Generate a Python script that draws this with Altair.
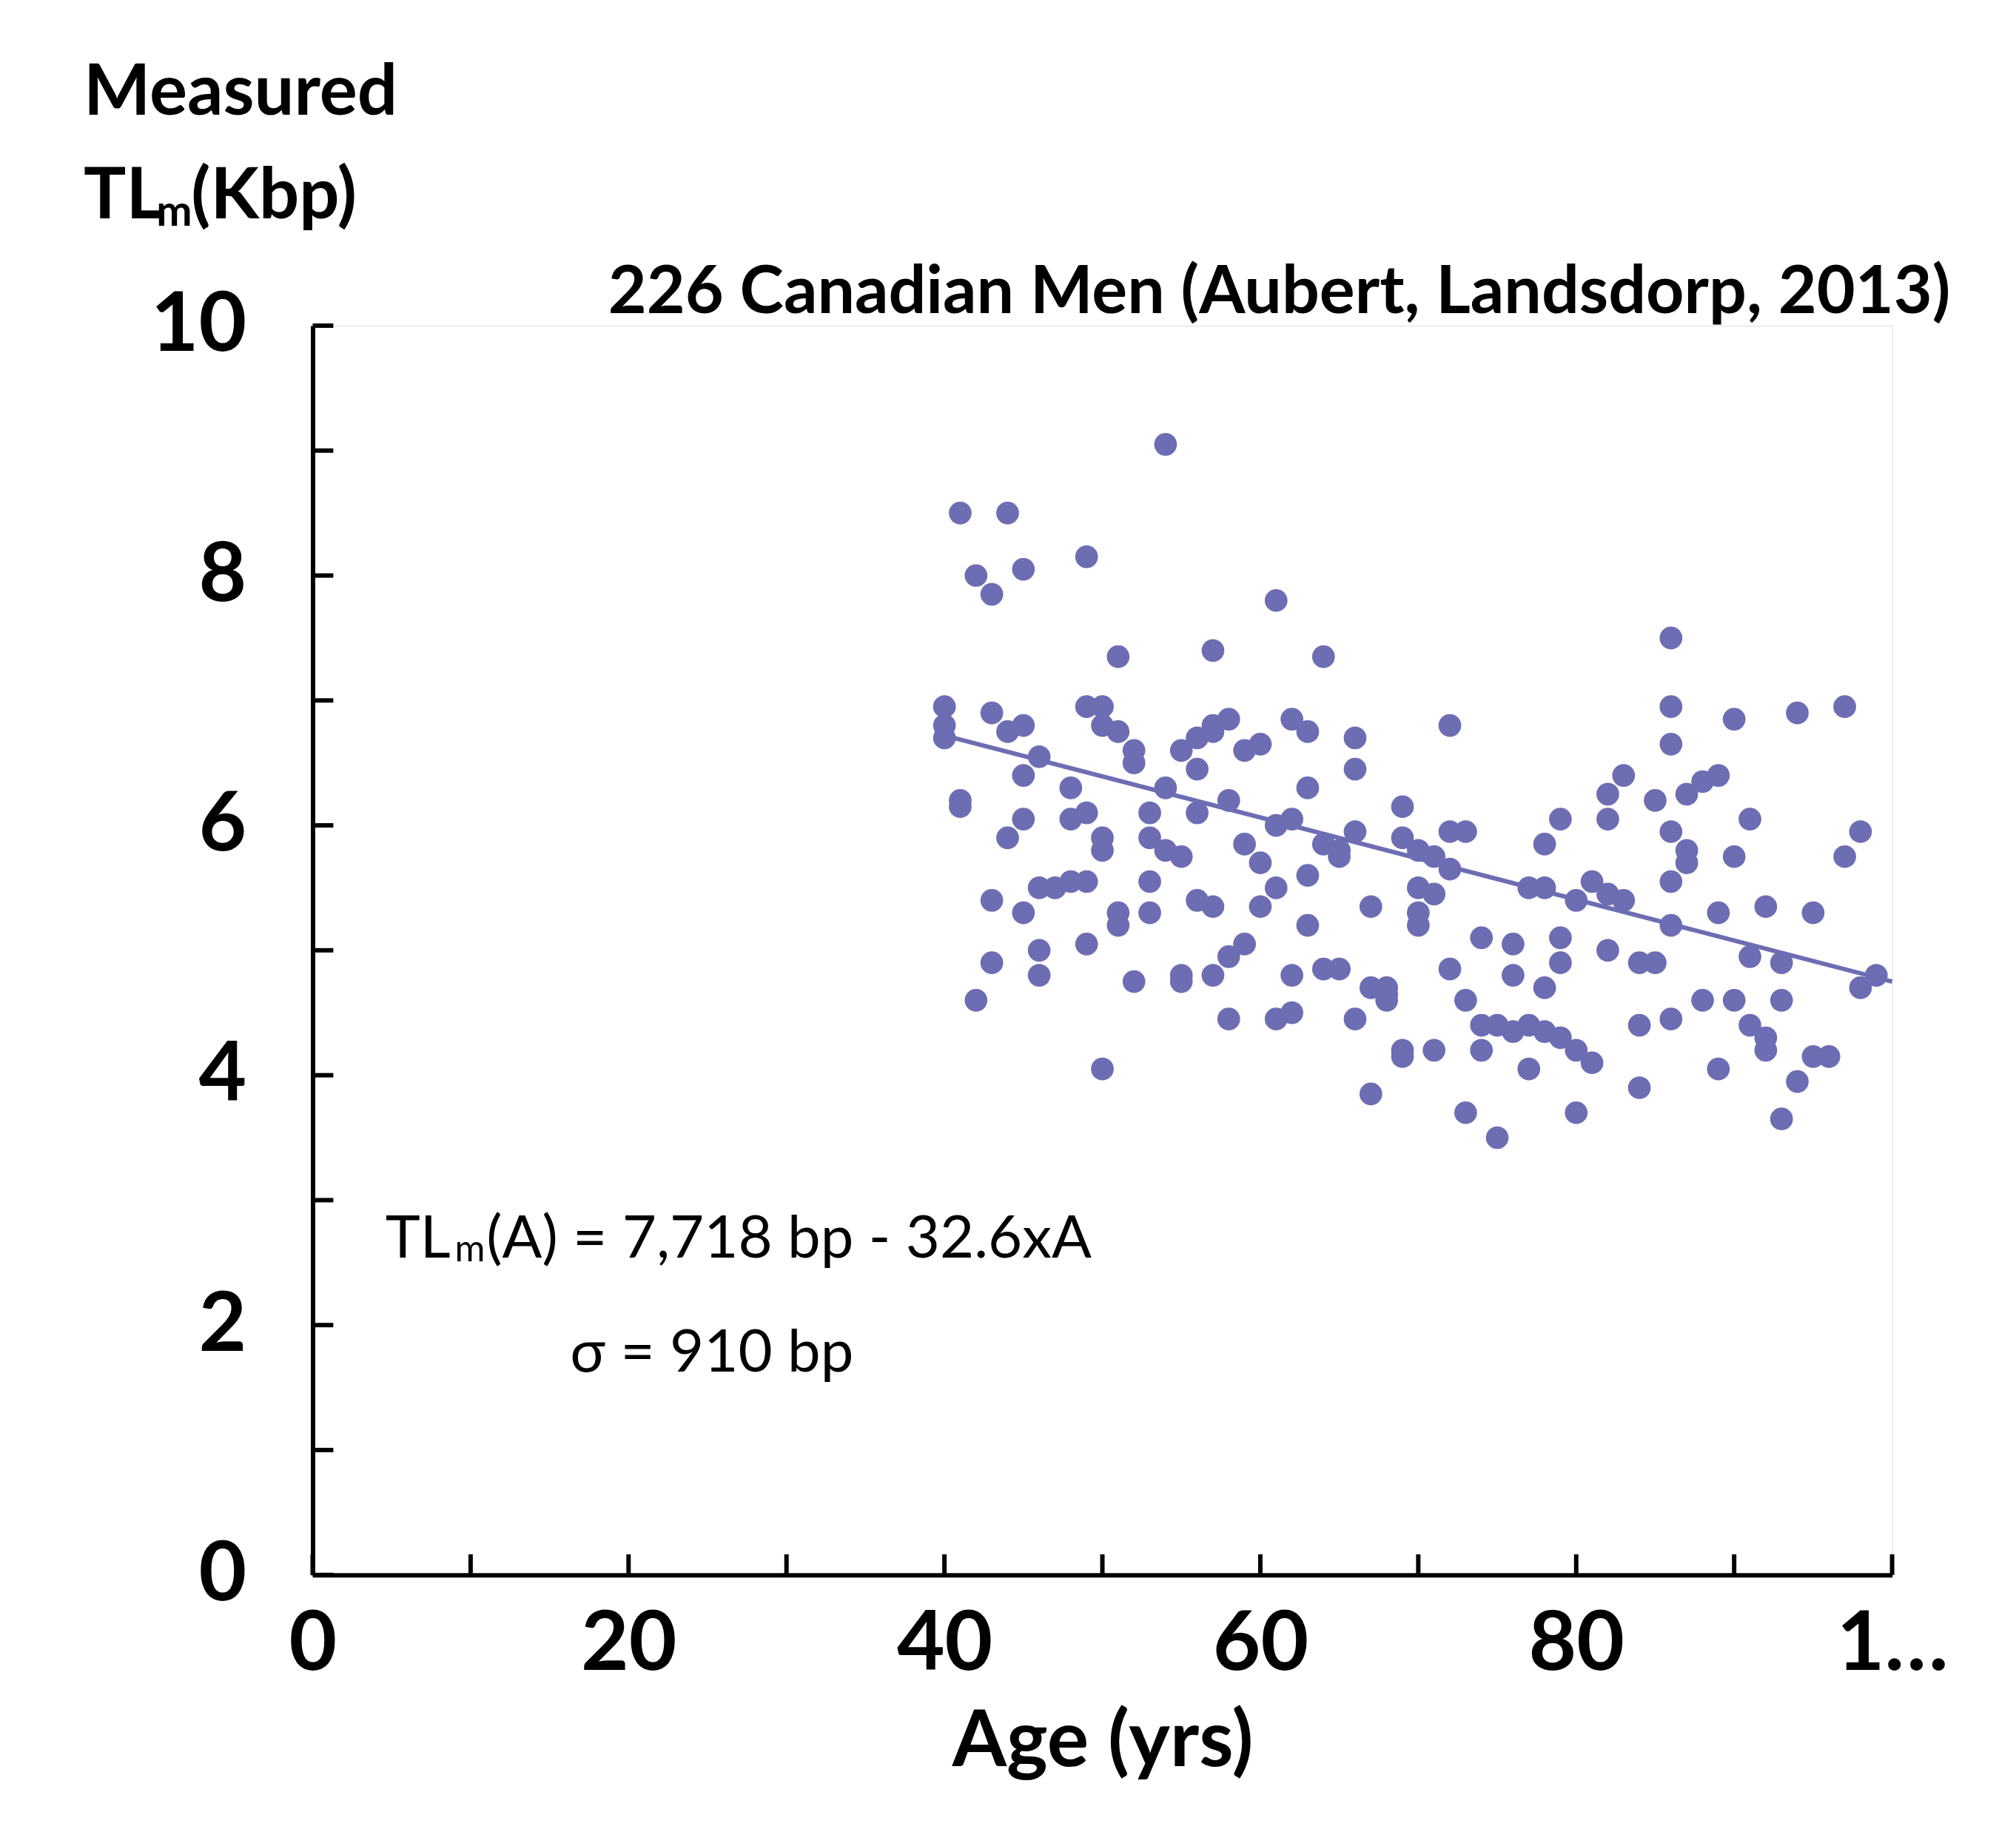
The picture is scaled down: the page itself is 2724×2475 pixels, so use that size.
import altair as alt
import pandas as pd

ages_tl = {
40:[6.95,6.8,6.7],41:[8.5,6.2,6.15],42:[8.0,4.6],43:[7.85,6.9,5.4,4.9],44:[8.5,6.75,5.9],
45:[8.05,6.8,6.4,6.05,5.3],46:[6.55,5.0,4.8,5.5],47:[5.5],48:[5.55,6.3,6.05],
49:[8.15,6.95,6.1,5.05,5.55],50:[6.95,6.8,5.8,5.9,4.05],51:[6.75,5.3,5.2,7.35],
52:[6.6,6.5,4.75],53:[6.1,5.55,5.3,5.9],54:[9.05,6.3,5.8],55:[6.6,5.75,4.8,4.75],
56:[6.7,6.45,6.1,5.4],57:[7.4,6.75,6.8,5.35,4.8],58:[6.85,6.2,4.95,4.45],59:[6.6,5.85,5.05],
60:[6.65,5.7,5.35],61:[7.8,6.0,5.5,4.45],62:[6.85,6.05,4.8,4.5],63:[6.75,6.3,5.6,5.2],
64:[7.35,5.85,4.85],65:[5.75,5.8,4.85],66:[6.7,6.45,5.95,4.45],67:[5.35,4.7,3.85],
68:[4.7,4.65,4.6],69:[5.9,6.15,4.2,4.15],70:[5.5,5.3,5.2,5.8],71:[5.75,5.45,4.2],
72:[6.8,5.95,5.65,4.85],73:[5.95,4.6,3.7],74:[5.1,4.4,4.2],75:[4.4,3.5],76:[5.05,4.8,4.35],
77:[5.5,4.4,4.05],78:[5.85,5.5,4.7,4.35],79:[6.05,5.1,4.9,4.3],80:[5.4,4.2,3.7],81:[5.55,4.1],
82:[6.25,6.05,5.45,5.0],83:[6.4,5.4],84:[4.9,4.4,3.9],85:[6.2,4.9],
86:[7.5,6.95,6.65,5.95,5.55,5.2,4.45],87:[6.25,5.8,5.7],88:[6.35,4.6],89:[6.4,5.3,4.05],
90:[6.85,5.75,4.6],91:[6.05,4.95,4.4],92:[5.35,4.3,4.2],93:[4.9,4.6,3.65],94:[6.9,3.95],
95:[5.3,4.15],96:[4.15],97:[6.95,5.75],98:[5.95,4.7],99:[4.8],
}
pts = pd.DataFrame([{"age": a, "tl": v} for a, vs in ages_tl.items() for v in vs])
line_age = [40, 100]
line_tl = [6.72, 4.75]
x_ticks = list(range(0, 101, 10))
y_ticks = list(range(0, 11))

W, H = 2142, 1694
COLOR = "#6d6db3"
FONT = "Lato"

xs = alt.Scale(domain=[0, 100], nice=False)
ys = alt.Scale(domain=[0, 10], nice=False)

xaxis = alt.Axis(values=[0, 20, 40, 60, 80, 100], format="d", labelFlush=False, ticks=False,
                 grid=False, domainWidth=6, domainColor="black", labelFontSize=112,
                 labelFontWeight="bold", labelFont=FONT, labelPadding=40, labelColor="black",
                 title="Age (yrs)", titleFontSize=106, titleFont=FONT, titleFontWeight="bold",
                 titlePadding=25, titleColor="black")
yaxis = alt.Axis(values=[0, 2, 4, 6, 8, 10], format="d", labelFlush=False, ticks=False,
                 grid=False, domainWidth=6, domainColor="black", labelFontSize=112,
                 labelFontWeight="bold", labelFont=FONT, labelPadding=90, labelColor="black",
                 title=None)

scatter = alt.Chart(pts).mark_circle(size=950, color=COLOR, opacity=1).encode(
    x=alt.X("age:Q", scale=xs, axis=xaxis), y=alt.Y("tl:Q", scale=ys, axis=yaxis))
reg = alt.Chart(pd.DataFrame({"age": line_age, "tl": line_tl})).mark_line(
    color=COLOR, strokeWidth=6).encode(x=alt.X("age:Q", scale=xs), y=alt.Y("tl:Q", scale=ys))
xt = alt.Chart(pd.DataFrame({"v": x_ticks})).mark_rule(color="black", strokeWidth=6).encode(
    x=alt.X("v:Q", scale=xs), y=alt.value(H), y2=alt.value(H - 28))
yt = alt.Chart(pd.DataFrame({"v": y_ticks})).mark_rule(color="black", strokeWidth=6).encode(
    y=alt.Y("v:Q", scale=ys), x=alt.value(0), x2=alt.value(28))

texts = pd.DataFrame([
    {"x": 61.2, "y": 10.26, "t": "226 Canadian Men (Aubert, Landsdorp, 2013)", "s": 90, "w": "bold", "a": "center"},
    {"x": -14.5, "y": 11.86, "t": "Measured", "s": 96, "w": "bold", "a": "left"},
    {"x": -14.5, "y": 11.03, "t": "TL", "s": 96, "w": "bold", "a": "left"},
    {"x": -9.9, "y": 10.9, "t": "m", "s": 58, "w": "bold", "a": "left"},
    {"x": -7.7, "y": 11.03, "t": "(Kbp)", "s": 96, "w": "bold", "a": "left"},
    {"x": 4.6, "y": 2.68, "t": "TL", "s": 80, "w": "normal", "a": "left"},
    {"x": 9.0, "y": 2.6, "t": "m", "s": 50, "w": "normal", "a": "left"},
    {"x": 11.0, "y": 2.68, "t": "(A) = 7,718 bp  - 32.6xA", "s": 80, "w": "normal", "a": "left"},
    {"x": 16.3, "y": 1.77, "t": "σ = 910 bp", "s": 80, "w": "normal", "a": "left"},
])
layers = []
for (s, w, a), g in texts.groupby(["s", "w", "a"]):
    layers.append(alt.Chart(g).mark_text(fontSize=int(s), fontWeight=w, align=a, baseline="middle",
                                         font=FONT, color="black").encode(
        x=alt.X("x:Q", scale=xs), y=alt.Y("y:Q", scale=ys), text="t:N"))

chart = alt.layer(scatter, reg, xt, yt, *layers).properties(
    width=W, height=H, autosize=alt.AutoSizeParams(type="none"),
    padding={"left": 416, "top": 429, "right": 160, "bottom": 340}
).configure_view(stroke=None).configure(background="white")

chart.save("out.html", embed_options={"renderer": "svg", "actions": False})
